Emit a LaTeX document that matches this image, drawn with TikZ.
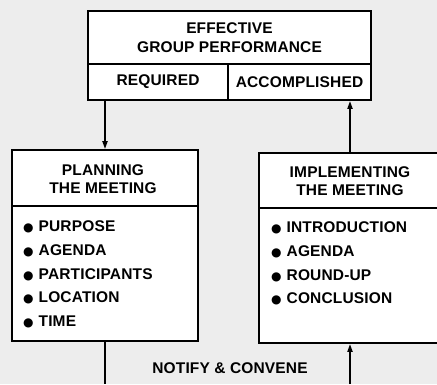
\documentclass[tikz,border=0pt]{standalone}
\usepackage{fontspec}
\setmainfont{Liberation Sans}[LetterSpace=1]
\newfontfamily\dv{DejaVu Sans}
\newcommand{\blt}{{\dv\fontsize{12}{0}\selectfont ●}\hspace{5pt}}
\usetikzlibrary{arrows.meta}
\definecolor{bg}{gray}{0.93}
\tikzset{
  box/.style={draw=black, line width=1.8pt, fill=white, inner sep=0pt},
  lbl/.style={font=\fontsize{15.5}{18.5}\selectfont\bfseries, align=center, inner sep=0pt},
  lst/.style={font=\fontsize{15.5}{23.8}\selectfont\bfseries, align=left, inner sep=0pt, anchor=north west},
  arr/.style={line width=1.8pt, -{Triangle[length=8pt,width=5pt]}},
  ln/.style={line width=1.8pt}
}
\begin{document}
\begin{tikzpicture}[x=1pt,y=-1pt]
\useasboundingbox[fill=bg] (0,0) rectangle (437,384);
\begin{scope}
\clip (0,0) rectangle (437,384);
% top box
\node[box, minimum width=283pt, minimum height=53pt] (top) at (229.5,37.5) {};
\node[box, minimum width=140pt, minimum height=36pt] (req) at (158,82) {};
\node[box, minimum width=143pt, minimum height=36pt] (acc) at (299.5,82) {};
\node[lbl] (toptxt) at (top.center) {EFFECTIVE\\GROUP PERFORMANCE};
\node[lbl] (reqtxt) at (req.center) {REQUIRED};
\node[lbl] (acctxt) at (acc.center) {ACCOMPLISHED};
% left box
\node[box, minimum width=186pt, minimum height=56pt] (lt) at (105,178) {};
\node[box, minimum width=186pt, minimum height=135pt] (ll) at (105,273.5) {};
\node[lbl] (lttxt) at (103,179) {PLANNING\\THE MEETING};
\node[lst] (lltxt) at (23,220.5) {\blt PURPOSE\\\blt AGENDA\\\blt PARTICIPANTS\\\blt LOCATION\\\blt TIME};
% right box
\node[box, minimum width=191pt, minimum height=55pt] (rt) at (354.5,180.5) {};
\node[box, minimum width=191pt, minimum height=135pt] (rl) at (354.5,275.5) {};
\node[lbl] (rttxt) at (350,181) {IMPLEMENTING\\THE MEETING};
\node[lst] (rltxt) at (271,221.5) {\blt INTRODUCTION\\\blt AGENDA\\\blt ROUND-UP\\\blt CONCLUSION};
\end{scope}
% connectors
\coordinate (lbot) at (105,384);
\coordinate (rbot) at (350,384);
\coordinate (rtop) at (350,153);
\draw[arr] (lt.north |- req.south) -- (lt.north);
\draw[arr] (rtop) -- (rtop |- acc.south);
\draw[ln] (ll.south) -- (lbot);
\draw[arr] (rbot) -- (rbot |- rl.south);
\node[lbl] (notify) at (230,368) {NOTIFY \& CONVENE};
\end{tikzpicture}
\end{document}
